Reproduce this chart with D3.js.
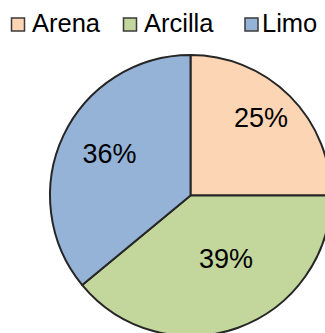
<!DOCTYPE html>
<html><head><meta charset="utf-8">
<script src="https://cdn.jsdelivr.net/npm/d3@7"></script>
<style>html,body{margin:0;padding:0;background:#fff;overflow:hidden}</style>
</head><body>
<script>
const categories = ["Arena", "Arcilla", "Limo"];
const values = [25, 39, 36];
const colors = ["#FCD5B5", "#C3D69B", "#95B3D7"];

// layout (not data)
const W = 325, H = 333;
const cx = 190.5, cy = 195.5, R = 140.5;
const labelRadius = [105.5, 72, 91.3];
const labelAngleNudge = [-3.1, -9.7, 2.3];
const legendSquareX = [11.5, 123.5, 245];
const legendTextX = [32, 144, 262];

const svg = d3.select("body").append("svg").attr("width", W).attr("height", H)
  .style("font-family", "'Liberation Sans', Arial, sans-serif");

const pie = d3.pie().sort(null).value(d => d);
const arcs = pie(values);
const arc = d3.arc().innerRadius(0).outerRadius(R);

const g = svg.append("g").attr("transform", `translate(${cx},${cy})`);
g.selectAll("path").data(arcs).join("path")
  .attr("d", arc)
  .attr("fill", (d, i) => colors[i])
  .attr("stroke", "#262626")
  .attr("stroke-width", 2)
  .attr("stroke-linejoin", "round");

const total = d3.sum(values);
g.selectAll("text").data(arcs).join("text")
  .attr("text-anchor", "middle")
  .attr("font-size", 27)
  .attr("fill", "#000")
  .attr("x", (d, i) => {
    const a = (d.startAngle + d.endAngle) / 2 + labelAngleNudge[i] * Math.PI / 180;
    return labelRadius[i] * Math.sin(a);
  })
  .attr("y", (d, i) => {
    const a = (d.startAngle + d.endAngle) / 2 + labelAngleNudge[i] * Math.PI / 180;
    return -labelRadius[i] * Math.cos(a) + 9.7;
  })
  .text(d => Math.round(d.value / total * 100) + "%");

const leg = svg.append("g");
categories.forEach((c, i) => {
  leg.append("rect").attr("x", legendSquareX[i]).attr("y", 18)
    .attr("width", 13).attr("height", 13)
    .attr("fill", colors[i]).attr("stroke", "#3a3a3a").attr("stroke-width", 1.5);
  leg.append("text").attr("x", legendTextX[i]).attr("y", 32)
    .attr("font-size", 25.5).attr("fill", "#000").text(c);
});
</script>
</body></html>
